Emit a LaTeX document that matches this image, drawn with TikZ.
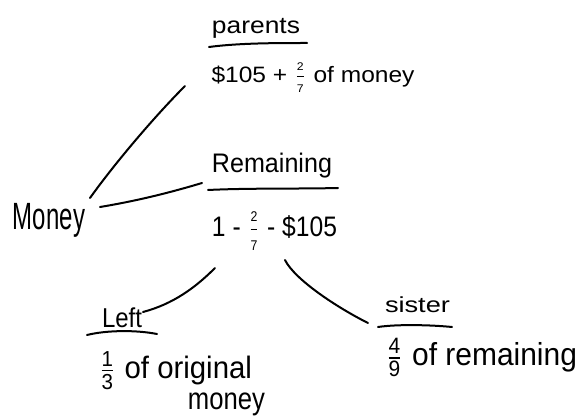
\documentclass[tikz,border=0pt]{standalone}
\usepackage{fontspec}
\usepackage{graphicx}
\setmainfont{Liberation Sans}
\usetikzlibrary{calc}
\newcommand\hfr[2]{$\frac{\raisebox{1.3pt}{\tiny #1}}{\raisebox{-1.3pt}{\tiny #2}}$}
\newcommand\bfr[2]{$\frac{\mbox{\scriptsize #1}}{\mbox{\scriptsize #2}}$}
\newcommand\fitbox[3]{\resizebox*{#1pt}{#2pt}{#3}}
\begin{document}
\begin{tikzpicture}[x=1pt,y=-1pt,
  txt/.style={inner sep=0pt,outer sep=0pt},
  hand/.style={line width=2pt,line cap=round,line join=round}]
\useasboundingbox (0,0) rectangle (579,417);
% text nodes
\node[txt] (money)   at (49,220)    {\fitbox{72}{34}{Money}};
\node[txt] (parents) at (256,28)    {\fitbox{88}{20}{parents}};
\node[txt] (pval)    at (313,78)    {\fitbox{203}{30}{\$105 + \hfr{2}{7} of money}};
\node[txt] (rem)     at (272,165.5) {\fitbox{120}{25}{Remaining}};
\node[txt] (rval)    at (274.5,231) {\fitbox{125}{38}{1 - \hfr{2}{7} - \$105}};
\node[txt] (left)    at (122,318)   {\fitbox{40}{20}{Left}};
\node[txt] (lval)    at (175,370.5) {\fitbox{154}{38}{\bfr{1}{3} of original}};
\node[txt] (lval2)   at (226.5,404) {\fitbox{77}{23}{money}};
\node[txt] (sister)  at (417.5,305) {\fitbox{65}{16}{sister}};
\node[txt] (sval)    at (481,357.5) {\fitbox{192}{39}{\bfr{4}{9} of remaining}};
% connector end points
\coordinate (m1) at ($(money)+(41,-22)$);
\coordinate (m2) at ($(money)+(51,-13)$);
\coordinate (p1) at ($(pval)+(-128,8)$);
\coordinate (r1) at ($(rem)+(-70,17.5)$);
\coordinate (v1) at ($(rval)+(-59.5,37)$);
\coordinate (v2) at ($(rval)+(10.5,29)$);
\coordinate (l1) at ($(left)+(21,-6)$);
\coordinate (s1) at ($(sister)+(-49.5,18)$);
% underlines
\draw[hand] ($(parents)+(-47,19)$) .. controls +(30,-4) and +(-30,0) .. ($(parents)+(51,15)$);
\draw[hand] ($(rem)+(-64,24.5)$) .. controls +(40,-2) and +(-40,1) .. ($(rem)+(66,22.5)$);
\draw[hand] ($(left)+(-35,17)$) .. controls +(20,-5) and +(-20,-4) .. ($(left)+(35,16)$);
\draw[hand] ($(sister)+(-39.5,22)$) .. controls +(20,-3) and +(-20,-2) .. ($(sister)+(34.5,22)$);
% connectors
\draw[hand] (m1) .. controls +(25,-35) and +(-30,30) .. (p1);
\draw[hand] (m2) .. controls +(30,-5) and +(-40,12) .. (r1);
\draw[hand] (v1) .. controls +(-20,20) and +(30,-8) .. (l1);
\draw[hand] (v2) .. controls +(10,20) and +(-30,-15) .. (s1);
\end{tikzpicture}
\end{document}
